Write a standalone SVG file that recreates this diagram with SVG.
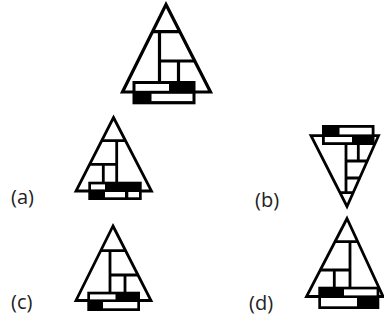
<svg xmlns="http://www.w3.org/2000/svg" width="384" height="322" viewBox="0 0 384 322">
<style>
.ln{fill:none;stroke:#000;stroke-width:2.8;stroke-linejoin:miter;stroke-miterlimit:10}
.blk{fill:#000}
.wh{fill:#fff}
.lbl{font-family:"Open Sans","Noto Sans",sans-serif;font-size:20px;fill:#222}
</style>
<rect width="384" height="322" fill="#fff"/>
<g id="main">
<polygon class="ln" style="stroke-width:3.2" points="166,4.5 210.5,92 122.5,92"/>
<path class="ln" style="stroke-width:3.2" d="M152,31.7H180.5M159.5,31.7V82M159.5,61H195.5M178.5,61V82"/>
<rect class="blk" x="132.5" y="81" width="63" height="23.3"/>
<rect class="wh" x="135.5" y="84" width="33.5" height="6.8"/>
<rect class="wh" x="151.5" y="93.8" width="41" height="7.3"/>
</g>
<g id="a">
<polygon class="ln" points="113.5,117.5 151.5,191 76,191"/>
<path class="ln" d="M101.2,140.7H126M116.7,140.7V182M89,164.3H116.7M103.3,164.3V182"/>
<rect class="blk" x="88.3" y="181.7" width="53.4" height="18.3"/>
<rect class="wh" x="91" y="184.4" width="14" height="5"/>
<rect class="wh" x="105" y="192" width="20" height="5.3"/>
<rect class="wh" x="128.3" y="192" width="10.7" height="5.3"/>
</g>
<g id="b">
<polygon class="ln" points="311,135.7 378.5,135.7 347,206.5"/>
<path class="ln" d="M339.5,192.7H353.6M346,144V192.7M346,161H367.8M358.3,144V161M346,178H360.3"/>
<rect class="blk" x="322" y="125" width="52.5" height="20"/>
<rect class="wh" x="339.5" y="127.8" width="32.2" height="6.6"/>
<rect class="wh" x="324.8" y="137" width="27.2" height="5.2"/>
</g>
<g id="c">
<polygon class="ln" points="113,226 151,300.5 76,300.5"/>
<path class="ln" d="M100.2,250.7H126.1M110,250.7V292M110,275H138.5M125,275V292"/>
<rect class="blk" x="87.3" y="291.7" width="52.7" height="19.3"/>
<rect class="wh" x="90" y="294.4" width="25.5" height="5"/>
<rect class="wh" x="103" y="302" width="34.3" height="6.3"/>
</g>
<g id="d">
<polygon class="ln" points="347,218.5 383,296.5 306.5,296.5"/>
<path class="ln" d="M334.5,241.7H358.2M350,241.7V287.5M319.8,270H350M334.3,270V287.5"/>
<rect class="blk" x="318.3" y="286.7" width="61" height="22.3"/>
<rect class="wh" x="344" y="289.4" width="32.6" height="6"/>
<rect class="wh" x="321" y="298" width="36" height="8.3"/>
</g>
<g id="labels">
<text class="lbl" x="11" y="204">(a)</text>
<text class="lbl" x="255" y="207">(b)</text>
<text class="lbl" x="11" y="309">(c)</text>
<text class="lbl" x="249" y="310">(d)</text>
</g>
</svg>
